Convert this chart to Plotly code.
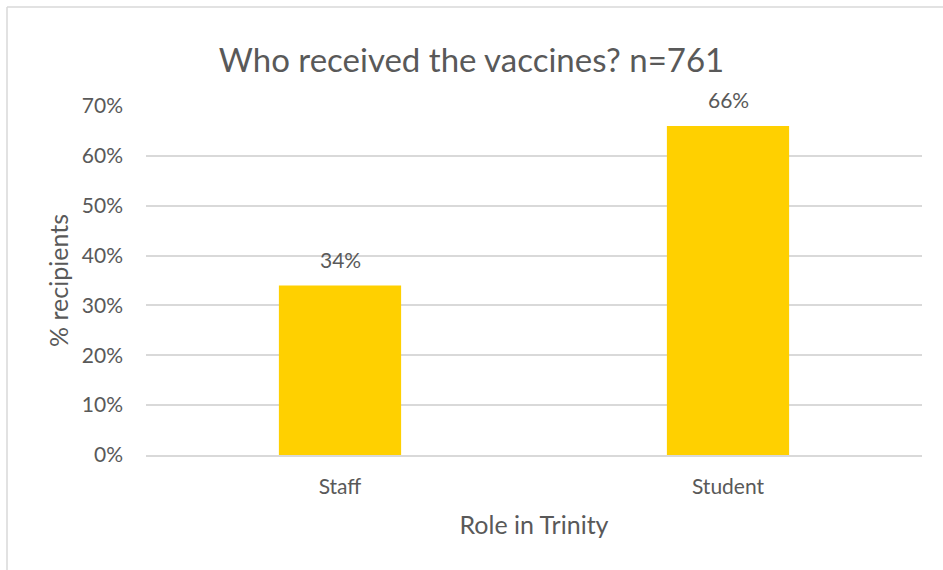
import plotly.graph_objects as go

categories = ["Staff", "Student"]
values = [0.34, 0.66]
labels = ["34%", "66%"]
title_text = "Who received the vaccines? n=761"
x_title = "Role in Trinity"
y_title = "% recipients"
tick_vals = [0, 0.1, 0.2, 0.3, 0.4, 0.5, 0.6, 0.7]
tick_text = ["0%", "10%", "20%", "30%", "40%", "50%", "60%", "70%"]

W, H = 943, 570
ML, MR, MT, MB = 146, 21, 106, 115
PW, PH = W - ML - MR, H - MT - MB

FONT = "Lato"
TXT = "#595959"
TICK_SIZE = 21
AXTITLE_SIZE = 25

fig = go.Figure()
fig.add_trace(go.Bar(
    x=categories, y=values, width=0.315,
    marker=dict(color="#FFD000", line=dict(width=0)),
    hoverinfo="skip",
))
for c, v, t in zip(categories, values, labels):
    fig.add_annotation(x=c, y=v, text=t, showarrow=False, yshift=26,
                       font=dict(family=FONT, size=TICK_SIZE, color=TXT))

# chart border (top and left visible)
bx0 = (7 - ML) / PW
by1 = 1 + (MT - 7) / PH
fig.add_shape(type="line", xref="paper", yref="paper", x0=bx0, x1=(W + 5 - ML) / PW,
              y0=by1, y1=by1, line=dict(color="#D9D9D9", width=1.5))
fig.add_shape(type="line", xref="paper", yref="paper", x0=bx0, x1=bx0,
              y0=by1, y1=-(MB + 5) / PH, line=dict(color="#D9D9D9", width=1.5))

fig.update_layout(
    width=W, height=H,
    margin=dict(l=ML, r=MR, t=MT, b=MB),
    paper_bgcolor="white", plot_bgcolor="white",
    showlegend=False,
    title=dict(text=title_text, x=0.5, xref="container", y=1 - 60 / H, yanchor="middle",
               xanchor="center", font=dict(family=FONT, size=33, color=TXT)),
    font=dict(family=FONT, color=TXT),
)
fig.update_xaxes(
    title=dict(text=x_title, font=dict(family=FONT, size=AXTITLE_SIZE, color=TXT), standoff=20),
    tickfont=dict(family=FONT, size=TICK_SIZE, color=TXT),
    showgrid=False, showline=True, linecolor="#D9D9D9", linewidth=1.5,
    ticks="", ticklabelstandoff=12,
)
fig.update_yaxes(
    title=dict(text=y_title, font=dict(family=FONT, size=AXTITLE_SIZE, color=TXT), standoff=6),
    range=[0, 0.7], tickvals=tick_vals, ticktext=tick_text,
    tickfont=dict(family=FONT, size=TICK_SIZE, color=TXT),
    showgrid=True, gridcolor="#D9D9D9", gridwidth=1.5,
    zeroline=False, showline=False, ticks="", ticklabelstandoff=22,
)

fig.write_html("out.html", config={"displayModeBar": False},
               post_script="document.body.style.margin='0';")
